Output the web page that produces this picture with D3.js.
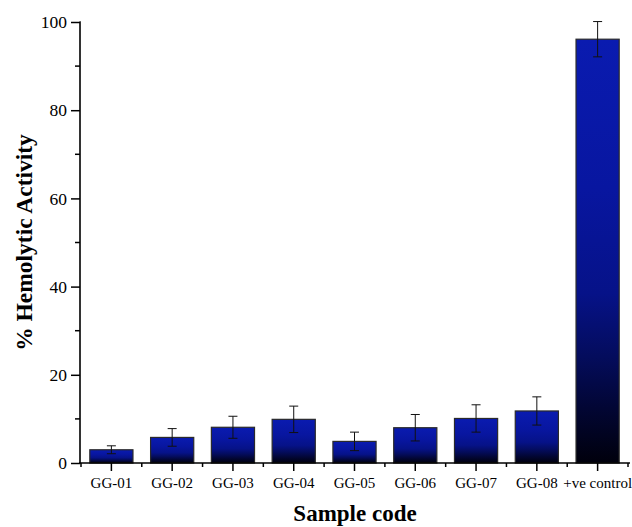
<!DOCTYPE html>
<html>
<head>
<meta charset="utf-8">
<script src="https://cdn.jsdelivr.net/npm/d3@7/dist/d3.min.js"></script>
<style>
  html, body { margin: 0; padding: 0; background: #fff; }
  svg { display: block; }
  text { font-family: "Liberation Serif", "Times New Roman", serif; fill: #000; }
</style>
</head>
<body>
<script>
// Hemolytic activity per sample (mean ± error)
const categories = ["GG-01", "GG-02", "GG-03", "GG-04", "GG-05", "GG-06", "GG-07", "GG-08", "+ve control"];
const meanValues = [3.0, 5.8, 8.1, 9.9, 4.9, 8.0, 10.1, 11.8, 96.1];
const errorValues = [0.9, 2.0, 2.5, 3.0, 2.1, 3.0, 3.1, 3.2, 4.0];
const yTicks = [0, 20, 40, 60, 80, 100];
const yMinorTicks = [10, 30, 50, 70, 90];

const width = 632, height = 527;

const svg = d3.select("body").append("svg")
  .attr("width", width).attr("height", height);

// Vertical shading from blue at the top of each bar to near-black at the base
const grad = svg.append("defs").append("linearGradient")
  .attr("id", "barShade").attr("x1", 0).attr("y1", 0).attr("x2", 0).attr("y2", 1);
[[0, "#0a1bb0"], [0.35, "#0816a0"], [0.6, "#061288"], [0.75, "#040c5c"], [0.87, "#020634"], [1, "#00000c"]]
  .forEach(([o, c]) => grad.append("stop").attr("offset", o).attr("stop-color", c));

const x = d3.scaleBand()
  .domain(categories)
  .range([81, 628])
  .paddingInner(0.29)
  .paddingOuter(0.145);

const y = d3.scaleLinear().domain([0, 100]).range([463, 22]);

// Bars
svg.append("g").selectAll("rect")
  .data(categories)
  .join("rect")
  .attr("x", d => x(d))
  .attr("y", (d, i) => y(meanValues[i]))
  .attr("width", x.bandwidth())
  .attr("height", (d, i) => y(0) - y(meanValues[i]))
  .attr("fill", "url(#barShade)")
  .attr("stroke", "#2a2a2a")
  .attr("stroke-width", 1.2);

// Error bars
const eb = svg.append("g").attr("stroke", "#111").attr("stroke-width", 1);
categories.forEach((c, i) => {
  const cx = x(c) + x.bandwidth() / 2;
  const hi = y(meanValues[i] + errorValues[i]);
  const lo = y(meanValues[i] - errorValues[i]);
  eb.append("line").attr("x1", cx).attr("x2", cx).attr("y1", hi).attr("y2", lo);
  eb.append("line").attr("x1", cx - 4.5).attr("x2", cx + 4.5).attr("y1", hi).attr("y2", hi);
  eb.append("line").attr("x1", cx - 4.5).attr("x2", cx + 4.5).attr("y1", lo).attr("y2", lo);
});

// Y axis with major and minor ticks
const yAxis = svg.append("g").attr("transform", "translate(80,0)");
yAxis.call(d3.axisLeft(y).tickValues(yTicks).tickSize(9).tickPadding(4))
  .call(g => g.select(".domain").attr("stroke-width", 1.6).attr("d", `M-0.5,${y(100)}H0V${y(0) + 0.5}`))
  .call(g => g.selectAll(".tick line").attr("stroke-width", 1.5))
  .call(g => g.selectAll(".tick text")
    .style("font-family", "'Liberation Serif', 'Times New Roman', serif")
    .style("font-size", "17.5px"));
yAxis.selectAll(".minor").data(yMinorTicks).join("line")
  .attr("class", "minor")
  .attr("x1", -5).attr("x2", 0)
  .attr("y1", d => y(d)).attr("y2", d => y(d))
  .attr("stroke", "#000").attr("stroke-width", 1.5);

// X axis: major ticks at category centres, minor ticks at category boundaries
const xAxis = svg.append("g").attr("transform", `translate(0,${y(0)})`);
xAxis.call(d3.axisBottom(x).tickSize(8).tickPadding(6))
  .call(g => g.select(".domain").attr("stroke-width", 1.6).attr("d", "M79,0H630"))
  .call(g => g.selectAll(".tick line").attr("stroke-width", 1.5))
  .call(g => g.selectAll(".tick text")
    .style("font-family", "'Liberation Serif', 'Times New Roman', serif")
    .style("font-size", "15px"));
const step = x.step();
const bounds = d3.range(categories.length + 1).map(i => x(categories[0]) - step * x.paddingInner() / 2 + i * step);
xAxis.selectAll(".minor").data(bounds).join("line")
  .attr("class", "minor")
  .attr("x1", d => d).attr("x2", d => d)
  .attr("y1", 0).attr("y2", 4)
  .attr("stroke", "#000").attr("stroke-width", 1.5);

// Axis titles
svg.append("text")
  .attr("transform", `translate(32,${(y(0) + y(100)) / 2}) rotate(-90)`)
  .attr("text-anchor", "middle")
  .style("font-size", "23.5px").style("font-weight", "bold")
  .text("% Hemolytic Activity");

svg.append("text")
  .attr("x", 355).attr("y", 521)
  .attr("text-anchor", "middle")
  .style("font-size", "23px").style("font-weight", "bold")
  .text("Sample code");
</script>
</body>
</html>
